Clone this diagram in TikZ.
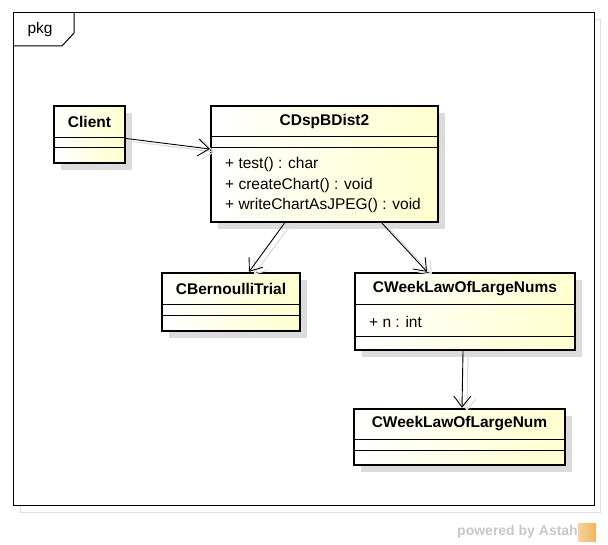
\documentclass[tikz,border=0pt]{standalone}
\usepackage{fontspec}
\setmainfont{Liberation Sans}
\usepackage{xcolor}
\usepackage{tikz}
\usetikzlibrary{positioning,calc,shadows,arrows.meta}
\definecolor{classyellow}{RGB}{255,255,206}
\definecolor{astahgray}{RGB}{200,200,200}
\definecolor{astahorange}{RGB}{240,180,90}

\begin{document}
\begin{tikzpicture}[x=1pt,y=-1pt,
		classbox/.style={draw, line width=2.4pt, inner sep=0pt,
			left color=white, right color=classyellow,
			drop shadow={shadow xshift=7pt, shadow yshift=-7pt, fill=black!14, opacity=1}},
		compline/.style={line width=0.8pt},
		ctitle/.style={font=\fontsize{15.5}{18}\selectfont\bfseries},
		cmember/.style={font=\fontsize{15.5}{18}\selectfont, anchor=west, inner sep=0pt},
		assoc/.style={-{Straight Barb[length=11pt,width=17pt]}, line width=0.9pt,
			preaction={draw=black!13, line width=1.2pt, transform canvas={shift={(5pt,-3pt)}}}}]
	\useasboundingbox (0,0) rectangle (608,545);
	
	% Khung goi pkg
	\draw[black!12, line width=1pt] (20,20) rectangle (600,512);
	\draw[line width=1pt, fill=white] (13,13) rectangle (594,505);
	\draw[line width=1pt] (13,46) -- (62,46) -- (74,33) -- (74,13);
	\node[font=\fontsize{15.5}{18}\selectfont] (pkg) at (40,29) {pkg};
	
	% Lop Client
	\node[classbox, minimum width=71pt, minimum height=57pt] (client) at (89.5,134.5) {};
	\draw[compline] (54,137) -- (125,137);
	\draw[compline] (54,147) -- (125,147);
	\node[ctitle] (clientname) at (89.5,122) {Client};
	
	% Lop CDspBDist2
	\node[classbox, minimum width=227pt, minimum height=116pt] (cdsp) at (324.5,164) {};
	\draw[compline] (211,136) -- (438,136);
	\draw[compline] (211,147) -- (438,147);
	\node[ctitle] (cdspname) at (324.5,121) {CDspBDist2};
	\node[cmember] (op1) at (225,164) {+ test() : char};
	\node[cmember] (op2) at (225,185) {+ createChart() : void};
	\node[cmember] (op3) at (225,205) {+ writeChartAsJPEG() : void};
	
	% Lop CBernoulliTrial
	\node[classbox, minimum width=138pt, minimum height=58pt] (bern) at (231,302) {};
	\draw[compline] (162,304) -- (300,304);
	\draw[compline] (162,315) -- (300,315);
	\node[ctitle] (bernname) at (231,289) {CBernoulliTrial};
	
	% Lop CWeekLawOfLargeNums
	\node[classbox, minimum width=220pt, minimum height=77pt] (nums) at (465,311.5) {};
	\draw[compline] (355,304) -- (575,304);
	\draw[compline] (355,336) -- (575,336);
	\node[ctitle] (numsname) at (465,289) {CWeekLawOfLargeNums};
	\node[cmember] (attr1) at (369,322) {+ n : int};
	
	% Lop CWeekLawOfLargeNum
	\node[classbox, minimum width=211pt, minimum height=56pt] (num) at (459.5,437) {};
	\draw[compline] (354,439) -- (565,439);
	\draw[compline] (354,450) -- (565,450);
	\node[ctitle] (numname) at (459.5,424) {CWeekLawOfLargeNum};
	
	% Lien ket
	\draw[assoc] ([yshift=-4pt]client.east) -- ([yshift=15pt]cdsp.west);
	\draw[assoc] ([xshift=-40pt]cdsp.south) -- ([xshift=18pt]bern.north);
	\draw[assoc] ([xshift=57.5pt]cdsp.south) -- ([xshift=-38pt]nums.north);
	\draw[assoc] ([xshift=-2pt]nums.south) -- ([xshift=2.5pt]num.north);
	
	% powered by Astah
	\node[font=\fontsize{14}{16}\selectfont\bfseries, text=astahgray, anchor=east, inner sep=0pt] (powered) at (578,532) {powered by Astah};
	\node[left color=astahorange!60, right color=astahorange, minimum size=18pt, inner sep=0pt, right=0pt of powered] (logo) {};
\end{tikzpicture}
\end{document}
